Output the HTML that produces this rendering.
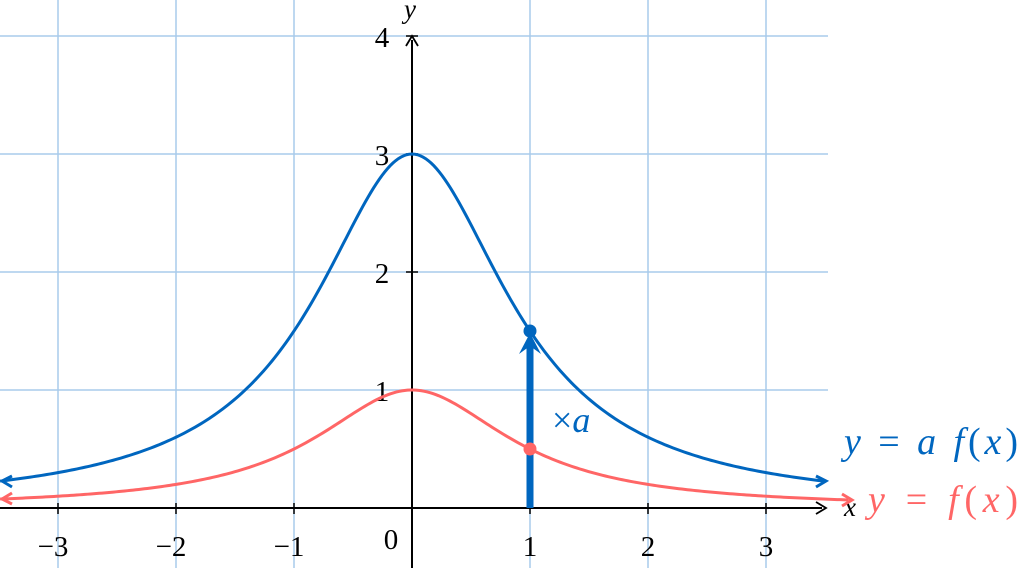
<!DOCTYPE html>
<html><head><meta charset="utf-8"><style>
html,body{margin:0;padding:0;background:#fff}
svg{display:block}
text{font-family:"Liberation Serif",serif}
</style></head><body>
<svg id="s" width="1020" height="568" viewBox="0 0 1020 568" xmlns="http://www.w3.org/2000/svg">
<g stroke="#a9cbeb" stroke-width="1.5">
<line x1="58" y1="0" x2="58" y2="568"/><line x1="176" y1="0" x2="176" y2="568"/><line x1="294" y1="0" x2="294" y2="568"/>
<line x1="530" y1="0" x2="530" y2="568"/><line x1="648" y1="0" x2="648" y2="568"/><line x1="766" y1="0" x2="766" y2="568"/>
<line x1="0" y1="36" x2="828" y2="36"/><line x1="0" y1="154" x2="828" y2="154"/><line x1="0" y1="272" x2="828" y2="272"/><line x1="0" y1="390" x2="828" y2="390"/>
</g>
<g stroke="#000" stroke-width="2" fill="none">
<line x1="0" y1="508" x2="822" y2="508"/>
<line x1="412" y1="568" x2="412" y2="40"/>
<path d="M816,502 L826,508 L816,514" stroke-width="1.8"/>
<path d="M406,46 L412,36 L418,46" stroke-width="1.8"/>
<g stroke-width="1.5">
<line x1="58" y1="503" x2="58" y2="514"/><line x1="176" y1="503" x2="176" y2="514"/><line x1="294" y1="503" x2="294" y2="514"/>
<line x1="530" y1="503" x2="530" y2="514"/><line x1="648" y1="503" x2="648" y2="514"/><line x1="766" y1="503" x2="766" y2="514"/>
<line x1="406" y1="36" x2="418" y2="36"/><line x1="406" y1="154" x2="418" y2="154"/><line x1="406" y1="272" x2="418" y2="272"/><line x1="406" y1="390" x2="418" y2="390"/>
</g></g>
<g font-size="29" fill="#000" text-anchor="middle">
<text x="53" y="556">−3</text><text x="171" y="556">−2</text><text x="289" y="556">−1</text>
<text x="391" y="549">0</text>
<text x="530" y="556">1</text><text x="648" y="556">2</text><text x="766" y="556">3</text>
<text x="382" y="47">4</text><text x="382" y="165">3</text><text x="382" y="283">2</text><text x="382" y="401">1</text>
<text x="850" y="516" font-style="italic" font-size="27">x</text>
<text x="410" y="18" font-style="italic" font-size="27">y</text>
</g>
<path id="blue" fill="none" stroke="#0066bf" stroke-width="3"/>
<path id="red" fill="none" stroke="#ff6666" stroke-width="3"/>
<path d="M12,476 L2,481 L12,487 M816,476 L826,481 L816,487" fill="none" stroke="#0066bf" stroke-width="3"/>
<path d="M12,493 L2,499 L12,504 M842,494 L852,500 L842,506" fill="none" stroke="#ff6666" stroke-width="3"/>
<line x1="530" y1="508" x2="530" y2="345" stroke="#0066bf" stroke-width="7"/>
<path d="M519,354 L530,333 L541,354 L530,346z" fill="#0066bf"/>
<circle cx="530" cy="331" r="6.5" fill="#0066bf"/>
<circle cx="530" cy="449" r="6.5" fill="#ff6666"/>
<text x="552" y="432" font-size="36" fill="#0066bf">×<tspan font-style="italic">a</tspan></text>
<text x="844" y="454" font-size="38" fill="#0066bf" font-style="italic" textLength="174" lengthAdjust="spacing">y <tspan font-style="normal">=</tspan> a f<tspan font-style="normal">(</tspan>x<tspan font-style="normal">)</tspan></text>
<text x="868" y="512" font-size="38" fill="#ff6666" font-style="italic" textLength="150" lengthAdjust="spacing">y <tspan font-style="normal">=</tspan> f<tspan font-style="normal">(</tspan>x<tspan font-style="normal">)</tspan></text>
<script>
function mk(a,x0,x1){var d="";for(var i=0;i<=300;i++){var x=x0+(x1-x0)*i/300;var y=a/(1+x*x);d+=(i?"L":"M")+(412+118*x).toFixed(2)+","+(508-118*y).toFixed(2);}return d;}
document.getElementById("blue").setAttribute("d",mk(3,-3.49,3.49));
document.getElementById("red").setAttribute("d",mk(1,-3.49,3.7));
</script>
</svg>
</body></html>
